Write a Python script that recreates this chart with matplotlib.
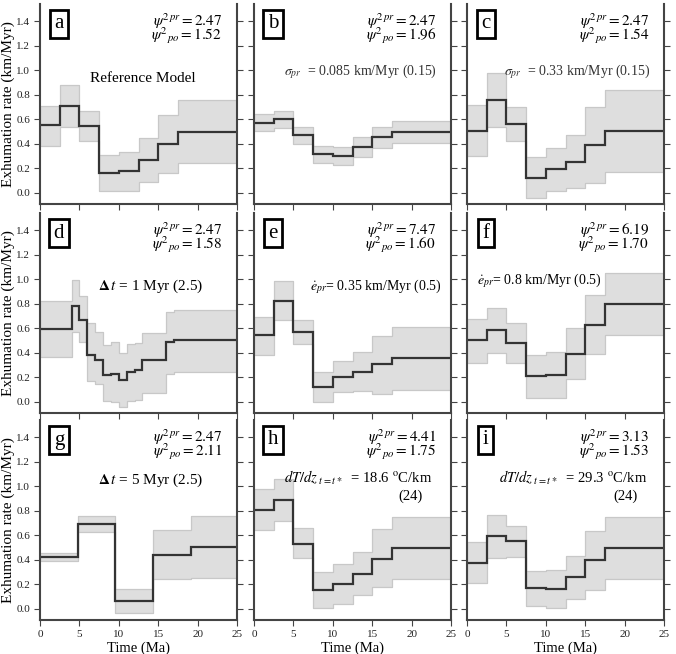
import numpy as np
import matplotlib
matplotlib.use('Agg')
import matplotlib.pyplot as plt

plt.rcParams['font.family'] = ['Liberation Serif', 'DejaVu Serif']
plt.rcParams['mathtext.fontset'] = 'stix'

# bin edges (Ma)
edges = [0, 2.5, 5, 7.5, 10, 12.5, 15, 17.5, 25]
edges_d = [0, 4, 5, 6, 7, 8, 9, 10, 11, 12, 13, 16, 17, 25]
edges_g = [0, 4.8, 9.5, 14.3, 19.1, 25]

# exhumation rate (km/Myr): best, lower, upper
a_mid = [0.55, 0.71, 0.545, 0.165, 0.175, 0.27, 0.40, 0.50]
a_lo = [0.38, 0.535, 0.42, 0.02, 0.02, 0.09, 0.165, 0.245]
a_hi = [0.71, 0.88, 0.67, 0.31, 0.33, 0.45, 0.635, 0.755]

b_mid = [0.573, 0.603, 0.47, 0.316, 0.303, 0.378, 0.454, 0.497]
b_lo = [0.505, 0.53, 0.395, 0.243, 0.227, 0.297, 0.365, 0.408]
b_hi = [0.643, 0.67, 0.535, 0.386, 0.378, 0.454, 0.535, 0.584]

c_mid = [0.508, 0.759, 0.565, 0.124, 0.192, 0.254, 0.389, 0.505]
c_lo = [0.303, 0.541, 0.422, -0.041, 0.016, 0.038, 0.084, 0.17]
c_hi = [0.719, 0.976, 0.697, 0.292, 0.37, 0.47, 0.697, 0.838]

d_mid = [0.595, 0.781, 0.672, 0.381, 0.341, 0.219, 0.227, 0.179, 0.248, 0.261, 0.339, 0.488, 0.504]
d_lo = [0.365, 0.568, 0.488, 0.17, 0.145, 0.005, 0.0, -0.04, 0.01, 0.02, 0.075, 0.23, 0.245]
d_hi = [0.819, 0.995, 0.861, 0.645, 0.573, 0.461, 0.485, 0.397, 0.47, 0.48, 0.565, 0.733, 0.752]

e_mid = [0.543, 0.822, 0.57, 0.125, 0.206, 0.247, 0.307, 0.358]
e_lo = [0.383, 0.665, 0.475, 0.003, 0.081, 0.09, 0.068, 0.10]
e_hi = [0.692, 0.985, 0.67, 0.241, 0.336, 0.404, 0.534, 0.608]

f_mid = [0.502, 0.586, 0.483, 0.212, 0.222, 0.388, 0.629, 0.795]
f_lo = [0.32, 0.399, 0.32, 0.035, 0.035, 0.184, 0.388, 0.545]
f_hi = [0.673, 0.768, 0.643, 0.383, 0.407, 0.60, 0.871, 1.053]

g_mid = [0.42, 0.69, 0.062, 0.441, 0.506]
g_lo = [0.387, 0.628, -0.035, 0.244, 0.252]
g_hi = [0.452, 0.758, 0.162, 0.642, 0.758]

h_mid = [0.808, 0.889, 0.532, 0.154, 0.203, 0.284, 0.408, 0.50]
h_lo = [0.646, 0.716, 0.414, 0.008, 0.043, 0.111, 0.178, 0.246]
h_hi = [0.976, 1.057, 0.657, 0.30, 0.365, 0.462, 0.649, 0.749]

i_mid = [0.376, 0.595, 0.554, 0.17, 0.162, 0.259, 0.40, 0.50]
i_lo = [0.211, 0.419, 0.427, 0.022, 0.008, 0.084, 0.157, 0.243]
i_hi = [0.543, 0.765, 0.676, 0.311, 0.319, 0.435, 0.638, 0.751]

letters = ['a', 'b', 'c', 'd', 'e', 'f', 'g', 'h', 'i']
psi_pr = ['2.47', '2.47', '2.47', '2.47', '7.47', '6.19', '2.47', '4.41', '3.13']
psi_po = ['1.52', '1.96', '1.54', '1.58', '1.60', '1.70', '2.11', '1.75', '1.53']

panels = [
    (edges, a_mid, a_lo, a_hi),
    (edges, b_mid, b_lo, b_hi),
    (edges, c_mid, c_lo, c_hi),
    (edges_d, d_mid, d_lo, d_hi),
    (edges, e_mid, e_lo, e_hi),
    (edges, f_mid, f_lo, f_hi),
    (edges_g, g_mid, g_lo, g_hi),
    (edges, h_mid, h_lo, h_hi),
    (edges, i_mid, i_lo, i_hi),
]

W, H = 676, 654
fig = plt.figure(figsize=(W / 100, H / 100), dpi=100)
lefts = [40, 254, 467]
tops = [4, 213, 420]
aw, ah = 197, 200

for k in range(9):
    r, c = k // 3, k % 3
    ax = fig.add_axes([lefts[c] / W, 1 - (tops[r] + ah) / H, aw / W, ah / H])
    ed, mid, lo, hi = panels[k]
    ax.stairs(hi, ed, baseline=lo, fill=True, facecolor='#dedede',
              edgecolor='#c4c4c4', linewidth=0.8)
    # thin vertical separators of the band
    ax.stairs(hi, ed, baseline=lo, fill=False, color='#c8c8c8', linewidth=0.8)
    ax.stairs(mid, ed, baseline=None, color='#333333', linewidth=1.6)

    ax.set_xlim(0, 25)
    ax.set_ylim(-0.09, 1.54)
    ax.set_xticks(np.arange(0, 26, 5))
    ax.set_yticks(np.arange(0, 1.41, 0.2))
    ax.spines['top'].set_visible(False)
    for s in ['left', 'right', 'bottom']:
        ax.spines[s].set_linewidth(1.5)
        ax.spines[s].set_color('#444444')
    ax.tick_params(direction='out', length=4, width=0.8, colors='#444444',
                   labelsize=8, labelcolor='#222222', right=True, pad=3)
    if c == 0:
        ax.set_yticklabels(['%.1f' % v for v in np.arange(0, 1.41, 0.2)])
        ax.set_ylabel('Exhumation rate (km/Myr)', fontsize=11)
        ax.yaxis.set_label_coords(-0.125, 0.5)
    else:
        ax.set_yticklabels([])
    if r == 2:
        ax.set_xlabel('Time (Ma)', fontsize=10.5, labelpad=2)
    else:
        ax.set_xticklabels([])

    ax.text(0.096, 0.9, letters[k], transform=ax.transAxes, fontsize=15,
            va='center', ha='center',
            bbox=dict(boxstyle='square,pad=0.22', facecolor='white',
                      edgecolor='black', linewidth=2))
    ax.text(0.925, 0.875,
            r'$\psi^2{}^{pr} = %s$' % psi_pr[k] + '\n' +
            r'$\psi^2{}_{po} = %s$' % psi_po[k],
            transform=ax.transAxes, fontsize=11, ha='right', va='center',
            linespacing=0.62)

    if k == 0:
        ax.text(0.52, 0.63, 'Reference Model', transform=ax.transAxes,
                fontsize=11, ha='center', va='center')
    elif k == 1:
        ax.text(0.93, 0.66, r'$\sigma_{pr}$  = 0.085 km/Myr (0.15)',
                transform=ax.transAxes, fontsize=10, ha='right', va='center',
                color='#333333')
    elif k == 2:
        ax.text(0.93, 0.66, r'$\sigma_{pr}$  = 0.33 km/Myr (0.15)',
                transform=ax.transAxes, fontsize=10, ha='right', va='center',
                color='#333333')
    elif k == 3:
        ax.text(0.56, 0.635, r'$\mathbf{\Delta}\, t$ = 1 Myr (2.5)',
                transform=ax.transAxes, fontsize=11, ha='center', va='center')
    elif k == 4:
        ax.text(0.95, 0.63, r'$\dot{e}_{pr}$= 0.35 km/Myr (0.5)',
                transform=ax.transAxes, fontsize=10, ha='right', va='center')
    elif k == 5:
        ax.text(0.05, 0.66, r'$\dot{e}_{pr}$= 0.8 km/Myr (0.5)',
                transform=ax.transAxes, fontsize=10, ha='left', va='center')
    elif k == 6:
        ax.text(0.56, 0.70, r'$\mathbf{\Delta}\, t$ = 5 Myr (2.5)',
                transform=ax.transAxes, fontsize=11, ha='center', va='center')
    elif k in (7, 8):
        val = '18.6' if k == 7 else '29.3'
        x0 = 0.905 if k == 7 else 0.914
        ax.text(x0, 0.71, r'$dT/dz_{\ t=t*}$  = %s $^{\rm o}$C/km' % val,
                transform=ax.transAxes, fontsize=10.5, ha='right', va='center')
        ax.text(x0 - 0.047, 0.62, '(24)', transform=ax.transAxes,
                fontsize=10.5, ha='right', va='center')

fig.savefig('out.png', dpi=100)
